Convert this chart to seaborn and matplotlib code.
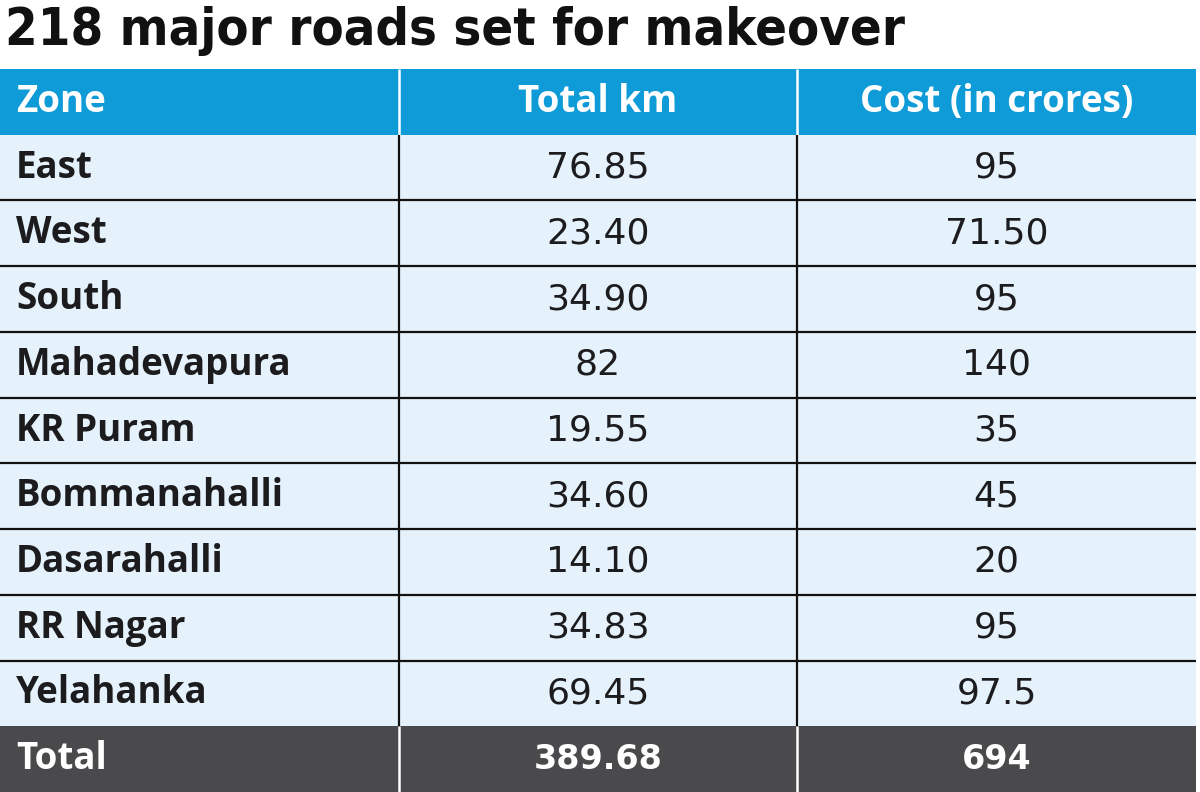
import matplotlib
matplotlib.use("Agg")
import matplotlib.pyplot as plt
from matplotlib.colors import ListedColormap
import seaborn as sns
import numpy as np
import pandas as pd

title = "218 major roads set for makeover"
headers = ["Zone", "Total km", "Cost (in crores)"]
zones = ["East", "West", "South", "Mahadevapura", "KR Puram",
         "Bommanahalli", "Dasarahalli", "RR Nagar", "Yelahanka"]
total_km = ["76.85", "23.40", "34.90", "82", "19.55",
            "34.60", "14.10", "34.83", "69.45"]
cost_crores = ["95", "71.50", "95", "140", "35", "45", "20", "95", "97.5"]
total_label = "Total"
total_values = ["389.68", "694"]

BLUE = "#0e9bd8"
LIGHT = "#e5f1fb"
GRAY = "#4a4a4c"
INK = "#1c1c1e"

sns.set_theme(style="white")
plt.rcParams["font.family"] = ["Open Sans", "DejaVu Sans"]

W, H = 1200, 792
fig = plt.figure(figsize=(W / 100, H / 100), dpi=100)
fig.patch.set_facecolor("white")

top_px = 69
ax = fig.add_axes([0, 0, 1196 / W, (H - top_px) / H])

# row type matrix: 0 header, 1 data, 2 total
nrows = len(zones) + 2
kinds = np.ones((nrows, 3))
kinds[0, :] = 0
kinds[-1, :] = 2
df = pd.DataFrame(kinds)
sns.heatmap(df, ax=ax, cmap=ListedColormap([BLUE, LIGHT, GRAY]), vmin=-0.5, vmax=2.5,
            cbar=False, xticklabels=False, yticklabels=False, linewidths=0)
ax.set_xlim(0, 3)
ax.set_ylim(nrows, 0)
for s in ax.spines.values():
    s.set_visible(False)

# grid lines
for i in range(2, nrows - 1):
    ax.hlines(i, 0, 3, colors="#111111", linewidth=1.6)
for c in (1, 2):
    ax.vlines(c, 0, 1, colors="white", linewidth=1.8)
    ax.vlines(c, 1, nrows - 1, colors="#111111", linewidth=1.6)
    ax.vlines(c, nrows - 1, nrows, colors="white", linewidth=1.8)

fs = 26.5
nfs = 26
xl = 16 / 398.7
NUM = ["DejaVu Sans"]
# header
ax.text(xl, 0.5, headers[0], color="white", fontsize=fs, fontweight="bold",
        ha="left", va="center")
for j in (1, 2):
    ax.text(j + 0.5, 0.5, headers[j], color="white", fontsize=fs, fontweight="bold",
            ha="center", va="center")
# data rows
for i, (z, k, c) in enumerate(zip(zones, total_km, cost_crores)):
    y = i + 1.5
    ax.text(xl, y, z, color=INK, fontsize=fs, fontweight="bold", ha="left", va="center")
    ax.text(1.5, y, k, color=INK, fontsize=nfs, family=NUM, ha="center", va="center")
    ax.text(2.5, y, c, color=INK, fontsize=nfs, family=NUM, ha="center", va="center")
# total row
y = nrows - 0.5
ax.text(xl, y, total_label, color="white", fontsize=fs, fontweight="bold", ha="left", va="center")
ax.text(1.5, y, total_values[0], color="white", fontsize=24, fontweight="bold", family=NUM,
        ha="center", va="center")
ax.text(2.5, y, total_values[1], color="white", fontsize=24, fontweight="bold", family=NUM,
        ha="center", va="center")

# title fitted to width
t = fig.text(5 / W, 1 - 45 / H, title, fontsize=34, fontweight="bold", color="#111111",
             family=["DejaVu Sans"], fontstretch="condensed", ha="left", va="baseline")
fig.canvas.draw()
bb = t.get_window_extent()
t.set_fontsize(34 * 900 / bb.width)

fig.savefig("out.png", dpi=100)
